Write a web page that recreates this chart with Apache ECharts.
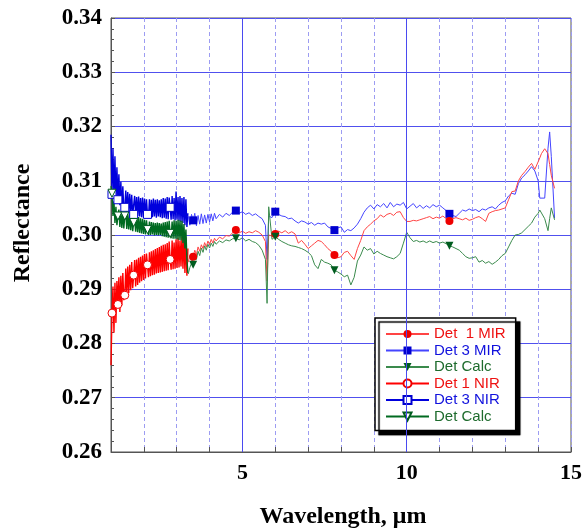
<!DOCTYPE html>
<html><head><meta charset="utf-8">
<script src="https://cdn.jsdelivr.net/npm/echarts@6.0.0/dist/echarts.min.js"></script>
<style>html,body{margin:0;padding:0;background:#fff}#c{width:585px;height:531px}</style>
</head><body><div id="c"></div>
<script>
// ---------- DATA ----------
const nirWavelength = [1.00,1.03,1.06,1.09,1.12,1.15,1.18,1.21,1.24,1.27,1.30,1.33,1.36,1.39,1.42,1.45,1.48,1.51,1.54,1.57,1.60,1.63,1.66,1.69,1.72,1.75,1.78,1.81,1.84,1.87,1.90,1.93,1.96,1.99,2.02,2.05,2.08,2.11,2.14,2.17,2.20,2.23,2.26,2.29,2.32,2.35,2.38,2.41,2.44,2.47,2.50,2.53,2.56,2.59,2.62,2.65,2.68,2.71,2.74,2.77,2.80,2.83,2.86,2.89,2.92,2.95,2.98,3.01,3.04,3.07,3.10,3.13,3.16,3.19,3.22,3.25,3.28,3.31,3.34];
const det1NIR = [0.2760,0.2856,0.2905,0.2820,0.2912,0.2838,0.2915,0.2872,0.2922,0.2858,0.2925,0.2870,0.2930,0.2880,0.2889,0.2938,0.2888,0.2942,0.2893,0.2945,0.2898,0.2950,0.2902,0.2926,0.2954,0.2905,0.2955,0.2908,0.2958,0.2912,0.2960,0.2915,0.2962,0.2917,0.2965,0.2920,0.2966,0.2945,0.2922,0.2968,0.2924,0.2970,0.2926,0.2972,0.2927,0.2974,0.2929,0.2976,0.2930,0.2978,0.2931,0.2980,0.2932,0.2982,0.2933,0.2983,0.2934,0.2985,0.2935,0.2988,0.2955,0.2936,0.2990,0.2937,0.2986,0.2938,0.2992,0.2939,0.2995,0.2940,0.2990,0.2942,0.2997,0.2938,0.3000,0.2930,0.2996,0.2925,0.2975];
const det3NIR = [0.3185,0.3075,0.3160,0.3068,0.3145,0.3062,0.3125,0.3065,0.3112,0.3055,0.3098,0.3050,0.3090,0.3046,0.3051,0.3082,0.3043,0.3079,0.3041,0.3076,0.3040,0.3074,0.3038,0.3038,0.3072,0.3036,0.3070,0.3035,0.3071,0.3034,0.3068,0.3033,0.3069,0.3032,0.3067,0.3033,0.3066,0.3038,0.3032,0.3066,0.3031,0.3065,0.3033,0.3067,0.3034,0.3065,0.3032,0.3066,0.3034,0.3064,0.3033,0.3066,0.3031,0.3068,0.3032,0.3067,0.3030,0.3070,0.3029,0.3069,0.3051,0.3028,0.3072,0.3029,0.3068,0.3027,0.3080,0.3028,0.3070,0.3026,0.3072,0.3024,0.3068,0.3022,0.3070,0.3018,0.3066,0.3015,0.3040];
const calcNIR = [0.3090,0.3077,0.3035,0.3062,0.3022,0.3052,0.3018,0.3035,0.3047,0.3015,0.3044,0.3013,0.3042,0.3012,0.3035,0.3041,0.3011,0.3040,0.3010,0.3039,0.3009,0.3037,0.3007,0.3023,0.3036,0.3006,0.3034,0.3005,0.3033,0.3004,0.3031,0.3003,0.3030,0.3002,0.3028,0.3001,0.3027,0.3010,0.3000,0.3025,0.3000,0.3024,0.3001,0.3023,0.2999,0.3022,0.3000,0.3023,0.2999,0.3022,0.3000,0.3021,0.2998,0.3023,0.2997,0.3024,0.2996,0.3025,0.2995,0.3026,0.3003,0.2994,0.3025,0.2993,0.3027,0.2993,0.3026,0.2992,0.3028,0.2991,0.3027,0.2990,0.3026,0.2985,0.3020,0.2975,0.3010,0.2955,0.2930];
const nirMarkerWavelength = [1.03,1.21,1.42,1.69,2.11,2.80];

const mirWavelength = [3.35,3.40,3.45,3.50,3.55,3.60,3.65,3.70,3.75,3.80,3.85,3.90,3.95,4.00,4.05,4.10,4.15,4.20,4.30,4.40,4.50,4.60,4.70,4.80,4.90,5.00,5.10,5.20,5.30,5.40,5.50,5.60,5.70,5.75,5.80,5.90,6.00,6.10,6.20,6.30,6.40,6.50,6.60,6.70,6.80,6.90,7.00,7.10,7.20,7.30,7.40,7.50,7.60,7.70,7.80,7.90,8.00,8.10,8.20,8.30,8.40,8.50,8.60,8.70,8.80,8.90,9.00,9.10,9.20,9.30,9.40,9.50,9.60,9.70,9.80,9.90,10.00,10.10,10.20,10.30,10.40,10.50,10.60,10.70,10.80,10.90,11.00,11.10,11.20,11.30,11.40,11.50,11.60,11.70,11.80,11.90,12.00,12.10,12.20,12.30,12.40,12.50,12.60,12.70,12.80,12.90,13.00,13.10,13.20,13.30,13.40,13.50,13.60,13.70,13.80,13.90,14.00,14.05,14.10,14.20,14.30,14.35,14.40,14.50];
const det3MIR = [0.3035,0.3018,0.3038,0.3027,0.3040,0.3017,0.3036,0.3020,0.3039,0.3021,0.3037,0.3022,0.3038,0.3024,0.3039,0.3026,0.3040,0.3030,0.3038,0.3033,0.3040,0.3036,0.3042,0.3045,0.3040,0.3043,0.3038,0.3041,0.3036,0.3039,0.3034,0.3030,0.3018,0.2955,0.3035,0.3032,0.3043,0.3038,0.3035,0.3034,0.3030,0.3031,0.3026,0.3022,0.3026,0.3024,0.3020,0.3023,0.3018,0.3022,0.3020,0.3022,0.3015,0.3012,0.3009,0.3013,0.3015,0.3005,0.3010,0.3008,0.3013,0.3020,0.3030,0.3042,0.3050,0.3055,0.3048,0.3056,0.3052,0.3058,0.3050,0.3060,0.3052,0.3057,0.3055,0.3060,0.3048,0.3053,0.3058,0.3050,0.3055,0.3049,0.3054,0.3050,0.3056,0.3052,0.3055,0.3050,0.3045,0.3039,0.3036,0.3034,0.3040,0.3046,0.3044,0.3048,0.3045,0.3047,0.3043,0.3048,0.3046,0.3050,0.3052,0.3048,0.3055,0.3060,0.3063,0.3072,0.3077,0.3075,0.3095,0.3105,0.3111,0.3118,0.3126,0.3118,0.3100,0.3068,0.3066,0.3068,0.3160,0.3190,0.3145,0.3031];
const det1MIR = [0.2950,0.2962,0.2953,0.2960,0.2972,0.2964,0.2978,0.2970,0.2982,0.2975,0.2986,0.2978,0.2989,0.2982,0.2992,0.2985,0.2994,0.2989,0.2996,0.2993,0.2999,0.2998,0.3004,0.3009,0.3004,0.3007,0.3003,0.3006,0.3004,0.3008,0.3005,0.3000,0.2988,0.2915,0.3000,0.2998,0.3002,0.3007,0.3004,0.3008,0.3003,0.3006,0.3002,0.2985,0.2990,0.2983,0.2975,0.2980,0.2985,0.2990,0.2988,0.2982,0.2975,0.2970,0.2963,0.2958,0.2960,0.2968,0.2970,0.2962,0.2955,0.2975,0.2990,0.3008,0.3015,0.3020,0.3026,0.3030,0.3037,0.3033,0.3038,0.3040,0.3036,0.3042,0.3043,0.3032,0.3025,0.3025,0.3027,0.3026,0.3028,0.3030,0.3032,0.3034,0.3030,0.3033,0.3031,0.3035,0.3030,0.3026,0.3030,0.3032,0.3030,0.3028,0.3031,0.3027,0.3029,0.3032,0.3034,0.3030,0.3025,0.3040,0.3043,0.3045,0.3046,0.3048,0.3050,0.3065,0.3080,0.3081,0.3100,0.3110,0.3117,0.3125,0.3132,0.3121,0.3135,0.3142,0.3150,0.3159,0.3150,0.3130,0.3110,0.3086];
const calcMIR = [0.2928,0.2940,0.2948,0.2945,0.2962,0.2955,0.2970,0.2962,0.2976,0.2968,0.2980,0.2972,0.2983,0.2976,0.2985,0.2979,0.2988,0.2983,0.2989,0.2986,0.2991,0.2989,0.2993,0.2994,0.2991,0.2995,0.2989,0.2992,0.2988,0.2986,0.2981,0.2972,0.2955,0.2874,0.3052,0.2992,0.2997,0.2992,0.2988,0.2985,0.2982,0.2980,0.2979,0.2977,0.2975,0.2972,0.2968,0.2962,0.2945,0.2938,0.2955,0.2950,0.2948,0.2945,0.2935,0.2932,0.2928,0.2923,0.2926,0.2908,0.2922,0.2952,0.2963,0.2978,0.2972,0.2975,0.2965,0.2970,0.2966,0.2963,0.2960,0.2958,0.2956,0.2960,0.2966,0.2985,0.3005,0.2995,0.2988,0.2990,0.2987,0.2989,0.2986,0.2989,0.2986,0.2988,0.2985,0.2987,0.2984,0.2980,0.2978,0.2975,0.2972,0.2966,0.2960,0.2957,0.2958,0.2960,0.2950,0.2953,0.2948,0.2951,0.2946,0.2950,0.2955,0.2962,0.2966,0.2978,0.2990,0.3000,0.3001,0.3004,0.3010,0.3016,0.3022,0.3033,0.3040,0.3046,0.3048,0.3030,0.3008,0.3030,0.3050,0.3028];
const mirMarkerWavelength = [3.5,4.8,6.0,7.8,11.3];

const xMajorGrid = [5,10];
const xLabelValues = [5,10,15];
const seriesNames = ['Det  1 MIR','Det 3 MIR','Det Calc','Det 1 NIR','Det 3 NIR','Det Calc '];

// ---------- HELPERS ----------
function pairs(xs, ys){ return xs.map((x,i)=>[x, ys[i]]); }
function markerSize(list, size){
  return function(v){ return list.some(m=>Math.abs(m - v[0]) < 1e-6) ? size : 0; };
}
const downTri = 'path://M0,0 L10,0 L5,9 Z';
const RED='#ee0000', BLUE='#0000d0', GREEN='#005c1f';

const chart = echarts.init(document.getElementById('c'), null, {renderer:'canvas'});
function lineSeries(name, xs, ys, markers, symbol, lineColor, lineWidth, fill, border, z){
  return {
    name, type:'line', data: pairs(xs, ys), z,
    symbol, symbolSize: markerSize(markers, 8), showSymbol:true, showAllSymbol:true,
    lineStyle:{color:lineColor, width:lineWidth},
    itemStyle:{color:fill, borderColor:border, borderWidth: fill === '#fff' ? 1 : 0},
    emphasis:{disabled:true}, animation:false, silent:true
  };
}

const option = {
  animation:false,
  grid:{left:111, top:18, right:13, bottom:79, show:true, borderColor:'#555', borderWidth:1, backgroundColor:'transparent'},
  xAxis:{
    type:'value', min:1, max:15, interval:1,
    axisLine:{show:true, lineStyle:{color:'#555', width:1}},
    axisTick:{show:true, inside:true, length:5, lineStyle:{color:'#555'}},
    axisLabel:{margin:10, color:'#000', fontFamily:'Liberation Serif', fontWeight:'bold', fontSize:22,
      formatter: v => xLabelValues.includes(v) ? String(v) : ''},
    splitLine:{show:true, lineStyle:{color:'#9c9cf2', width:1, type:[4,3]}}
  },
  yAxis:{
    type:'value', min:0.26, max:0.34, interval:0.01,
    axisLine:{show:true, lineStyle:{color:'#555', width:1}},
    axisTick:{show:true, inside:true, length:4, lineStyle:{color:'#555'}},
    minorTick:{show:true, splitNumber:5, length:3, lineStyle:{color:'#555'}},
    axisLabel:{margin:9, color:'#000', fontFamily:'Liberation Serif', fontWeight:'bold', fontSize:23,
      formatter: v => v.toFixed(2)},
    splitLine:{show:true, lineStyle:{color:'#5050ee', width:1}}
  },
  legend:{
    orient:'vertical', left:375, top:318, padding:[8,10,6,10],
    itemWidth:43, itemHeight:10, itemGap:0.5, selectedMode:false,
    backgroundColor:'#fff', borderColor:'#000', borderWidth:1.5,
    shadowColor:'#000', shadowBlur:1, shadowOffsetX:4, shadowOffsetY:4,
    textStyle:{fontFamily:'Liberation Sans', fontSize:15, lineHeight:16},
    data:[
      {name:seriesNames[0], textStyle:{color:'#ee1111'}},
      {name:seriesNames[1], textStyle:{color:'#1111dd'}},
      {name:seriesNames[2], textStyle:{color:'#1d6b2c'}},
      {name:seriesNames[3], textStyle:{color:'#ee1111'}},
      {name:seriesNames[4], textStyle:{color:'#1111dd'}},
      {name:seriesNames[5], textStyle:{color:'#1d6b2c'}}
    ]
  },
  graphic:[
    {type:'text', x:23, y:223, rotation:Math.PI/2, silent:true,
      style:{text:'Reflectance', font:'bold 24px "Liberation Serif"', fill:'#000', align:'center', verticalAlign:'middle'}},
    {type:'text', x:343, y:517, silent:true,
      style:{text:'Wavelength, \u03bcm', font:'bold 24px "Liberation Serif"', fill:'#000', align:'center', verticalAlign:'middle'}}
  ],
  series:[
    {name:'grid5', type:'line', data:[], z:1, silent:true,
      markLine:{silent:true, symbol:['none','none'], label:{show:false}, animation:false,
        lineStyle:{color:'#4a4af0', type:'solid', width:1},
        data: xMajorGrid.map(v=>({xAxis:v}))}},
    lineSeries(seriesNames[3], nirWavelength, det1NIR, nirMarkerWavelength, 'circle', '#ff0000', 1.4, '#fff', RED, 3),
    lineSeries(seriesNames[4], nirWavelength, det3NIR, nirMarkerWavelength, 'rect', '#0000dd', 1.4, '#fff', BLUE, 3),
    lineSeries(seriesNames[5], nirWavelength, calcNIR, nirMarkerWavelength, downTri, '#006a20', 1.4, '#fff', GREEN, 3),
    lineSeries(seriesNames[1], mirWavelength, det3MIR, mirMarkerWavelength, 'rect', '#4444ff', 1, BLUE, BLUE, 4),
    lineSeries(seriesNames[0], mirWavelength, det1MIR, mirMarkerWavelength, 'circle', '#ff4444', 1, RED, RED, 4),
    lineSeries(seriesNames[2], mirWavelength, calcMIR, mirMarkerWavelength, downTri, '#3a8a4c', 1, GREEN, GREEN, 4)
  ]
};
chart.setOption(option);
</script>
</body></html>
